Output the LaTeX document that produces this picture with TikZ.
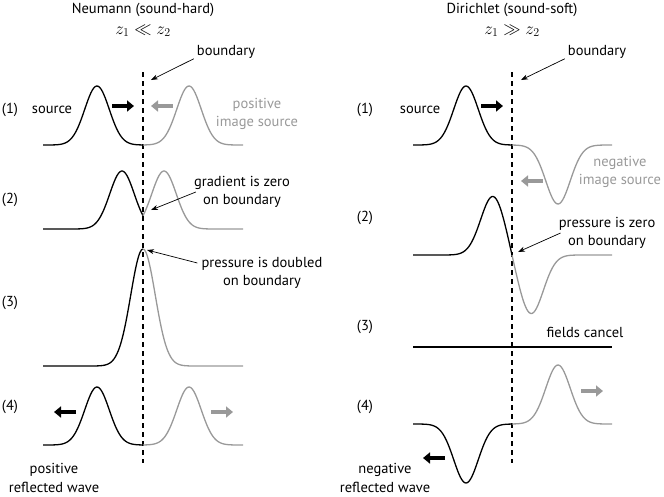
\documentclass[tikz,border=0pt]{standalone}
\usepackage{fontspec}
\setmainfont{PT Sans}
\usepackage{amssymb}
\usetikzlibrary{arrows.meta}
\definecolor{imagegray}{gray}{0.6}

\begin{document}
\begin{tikzpicture}[x=1pt,y=-1pt,
  every node/.style={font=\fontsize{14.5}{18.5}\selectfont, align=center, inner sep=0pt},
  declare function={g(\u,\c)=exp(-((\u-\c)*(\u-\c))/300);},
  wave/.style={line width=1.3pt, smooth, samples=70},
  imgwave/.style={wave, imagegray},
  bnd/.style={line width=1.2pt, dash pattern=on 5pt off 4pt},
  pointer/.style={-{Stealth[length=7pt,width=5pt]}, line width=0.7pt},
  move/.style={line width=3.5pt, -{Triangle[length=7pt,width=11pt]}},
  mathlabel/.style={font=\fontsize{17}{19}\selectfont}]
\useasboundingbox (0,0) rectangle (664,496);

% Neumann side
\node (titleN) at (143,10) {Neumann (sound-hard)};
\node[mathlabel] (relN) at (143,31) {$z_1 \ll z_2$};
\node (bndN) at (226,52) {boundary};
\coordinate (bndNtip) at (151,80);
\draw[bnd] (143,72) -- (143,463);
\draw[pointer] ([xshift=-3pt]bndN.south west) -- (bndNtip);

% (1)
\node (rowN1) at (10,110) {(1)};
\node (srcN) at (52,110) {source};
\node[imagegray] (imgN) at (257,114) {positive\\image source};
\draw[wave] plot[domain=43:143] (\x,{145-59*g(\x,97)});
\draw[imgwave] plot[domain=143:243] (\x,{145-59*g(\x,189)});
\draw[move] (112,106) -- (134,106);
\draw[move,imagegray] (173,106) -- (151,106);

% (2)
\node (rowN2) at (10,200) {(2)};
\node (gradN) at (242,192) {gradient is zero\\on boundary};
\coordinate (gradNtip) at (151,210);
\draw[wave] plot[domain=43:143] (\x,{229-58*g(\x,122)});
\draw[imgwave] plot[domain=143:243] (\x,{229-58*g(\x,164)});
\draw[pointer] ([xshift=2pt]gradN.west) -- (gradNtip);

% (3)
\node (rowN3) at (10,303) {(3)};
\node (presN) at (262,273) {pressure is doubled\\on boundary};
\coordinate (presNtip) at (147,250);
\draw[wave] plot[domain=43:143] (\x,{366-117*g(\x,143)});
\draw[imgwave] plot[domain=143:243] (\x,{366-117*g(\x,143)});
\draw[pointer] ([xshift=-4pt,yshift=10pt]presN.west) -- (presNtip);

% (4)
\node (rowN4) at (10,407) {(4)};
\node (reflN) at (54,478) {positive\\reflected wave};
\draw[wave] plot[domain=43:143] (\x,{445-58*g(\x,97)});
\draw[imgwave] plot[domain=143:243] (\x,{445-58*g(\x,189)});
\draw[move] (76,412) -- (54,412);
\draw[move,imagegray] (211,412) -- (233,412);

% Dirichlet side
\node (titleD) at (512,10) {Dirichlet (sound-soft)};
\node[mathlabel] (relD) at (512,31) {$z_1 \gg z_2$};
\node (bndD) at (597,52) {boundary};
\coordinate (bndDtip) at (521,80);
\draw[bnd] (512,72) -- (512,463);
\draw[pointer] ([xshift=-3pt]bndD.south west) -- (bndDtip);

% (1)
\node (rowD1) at (365,110) {(1)};
\node (srcD) at (420,110) {source};
\node[imagegray] (imgD) at (620,172) {negative\\image source};
\draw[wave] plot[domain=413:512] (\x,{145-59*g(\x,466)});
\draw[imgwave] plot[domain=512:612] (\x,{145+59*g(\x,558)});
\draw[move] (481,106) -- (503,106);
\draw[move,imagegray] (543,181) -- (521,181);

% (2)
\node (rowD2) at (365,218) {(2)};
\node (presD) at (607,233) {pressure is zero\\on boundary};
\coordinate (presDtip) at (518,252);
\draw[wave] plot[domain=413:512] (\x,{255-59*(g(\x,493)-g(\x,531))});
\draw[imgwave] plot[domain=512:612] (\x,{255-59*(g(\x,493)-g(\x,531))});
\draw[pointer] ([xshift=2pt]presD.west) -- (presDtip);

% (3)
\node (rowD3) at (365,327) {(3)};
\node (cancelD) at (585,332) {fields cancel};
\draw[line width=1.3pt] (413,347) -- (612,347);

% (4)
\node (rowD4) at (365,407) {(4)};
\node (reflD) at (385,478) {negative\\reflected wave};
\draw[wave] plot[domain=413:512] (\x,{424+59*g(\x,466)});
\draw[imgwave] plot[domain=512:612] (\x,{424-59*g(\x,558)});
\draw[move] (445,458) -- (423,458);
\draw[move,imagegray] (581,391) -- (603,391);
\end{tikzpicture}
\end{document}
